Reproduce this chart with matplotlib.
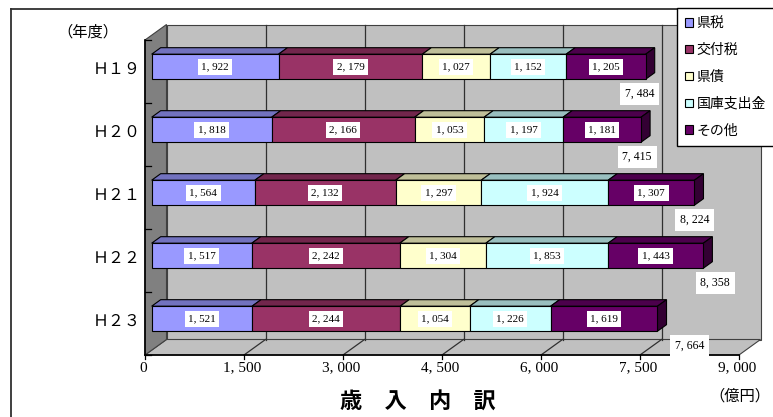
import numpy as np
import matplotlib.pyplot as plt
from matplotlib.patches import Polygon, Patch
from matplotlib.lines import Line2D

plt.rcParams['font.family'] = ['Noto Sans CJK JP', 'DejaVu Sans']
NUM_FONT = 'Liberation Serif'

# 歳入内訳（億円）
years = ['Ｈ１９', 'Ｈ２０', 'Ｈ２１', 'Ｈ２２', 'Ｈ２３']
series = ['県税', '交付税', '県債', '国庫支出金', 'その他']
kenzei = [1922, 1818, 1564, 1517, 1521]
koufuzei = [2179, 2166, 2132, 2242, 2244]
kensai = [1027, 1053, 1297, 1304, 1054]
kokko = [1152, 1197, 1924, 1853, 1226]
sonota = [1205, 1181, 1307, 1443, 1619]
totals = [7484, 7415, 8224, 8358, 7664]
xticks = [0, 1500, 3000, 4500, 6000, 7500, 9000]

colors = ['#9999FF', '#993366', '#FFFFCC', '#CCFFFF', '#660066']
# sideways nudge of the total labels (value units)
total_nudge = [-90, -60, 0, 180, 490]

def shade(c, f):
    r, g, b = [int(c[k:k + 2], 16) for k in (1, 3, 5)]
    return '#%02x%02x%02x' % (int(r * f), int(g * f), int(b * f))

def fmt(v):
    return '{:,}'.format(v).replace(',', ', ')

fig = plt.figure(figsize=(7.73, 4.17), dpi=100)
ax = fig.add_axes([145 / 773, 62 / 417, 594 / 773, 315 / 417])
ax.set_xlim(0, 9000)
ax.set_ylim(4.5, -0.5)
ax.axis('off')

# depth of the 3d box, in data units
DX = 21.5 / (594 / 9000)
DY = 15.5 / 63.0

def pt(x, y, d):
    return (x + d * DX, y - d * DY)

def poly(pts, fc, ec='black', lw=0.8, z=1):
    ax.add_patch(Polygon(pts, closed=True, fc=fc, ec=ec, lw=lw, zorder=z, clip_on=False))

# walls and floor
poly([pt(0, -0.5, 1), pt(9000, -0.5, 1), pt(9000, 4.5, 1), pt(0, 4.5, 1)], '#C0C0C0', '#404040', 0.8)
poly([pt(0, 4.5, 0), pt(9000, 4.5, 0), pt(9000, 4.5, 1), pt(0, 4.5, 1)], '#C0C0C0', '#404040', 0.8)
poly([pt(0, -0.5, 0), pt(0, -0.5, 1), pt(0, 4.5, 1), pt(0, 4.5, 0)], '#808080', '#404040', 0.8)

for v in xticks[1:-1]:
    ax.plot(*zip(pt(v, -0.5, 1), pt(v, 4.5, 1)), color='#303030', lw=0.9, zorder=2, clip_on=False)
    ax.plot(*zip(pt(v, 4.5, 0), pt(v, 4.5, 1)), color='#303030', lw=0.9, zorder=2, clip_on=False)

ax.plot([0, 9000], [4.5, 4.5], color='black', lw=1.2, zorder=3, clip_on=False)
ax.plot([0, 0], [-0.5, 4.5], color='black', lw=1.2, zorder=3, clip_on=False)
for yb in np.arange(-0.5, 4.6, 1.0):
    ax.plot([0, 90], [yb, yb], color='black', lw=0.9, zorder=3, clip_on=False)
for v in xticks:
    ax.plot([v, v], [4.5, 4.5 + 4 / 63], color='black', lw=0.9, zorder=3, clip_on=False)
    ax.annotate(fmt(v), (v, 4.5), xytext=(-2, -13), textcoords='offset pixels',
                ha='center', va='center', fontsize=11, family=NUM_FONT)

for i, yr in enumerate(years):
    ax.annotate(yr, (0, i), xytext=(-4, 2), textcoords='offset pixels',
                ha='right', va='center', fontsize=11.5)

# stacked 3d bars
data = np.array([kenzei, koufuzei, kensai, kokko, sonota])
df, db = 0.31, 0.73
h = 25 / 63
for i in range(len(years)):
    left = 0
    yt, ybm = i - h / 2, i + h / 2
    for k in range(len(series)):
        v = data[k, i]
        right = left + v
        poly([pt(left, yt, df), pt(right, yt, df), pt(right, yt, db), pt(left, yt, db)],
             shade(colors[k], 0.75), z=4)
        poly([pt(left, yt, df), pt(right, yt, df), pt(right, ybm, df), pt(left, ybm, df)],
             colors[k], z=5)
        if k == len(series) - 1:
            poly([pt(right, yt, df), pt(right, yt, db), pt(right, ybm, db), pt(right, ybm, df)],
                 shade(colors[k], 0.5), z=4)
        cx, cy = pt(left + v / 2, i, df)
        ax.text(cx, cy, fmt(v), ha='center', va='center', fontsize=8, family=NUM_FONT, zorder=6,
                bbox=dict(boxstyle='square,pad=0.3', fc='white', ec='none'))
        left = right
    tx, ty = pt(totals[i] + total_nudge[i], i + 0.43, df)
    ax.text(tx, ty, fmt(totals[i]), ha='center', va='center', fontsize=8.5, family=NUM_FONT,
            zorder=6, bbox=dict(boxstyle='square,pad=0.4', fc='white', ec='none'))

# chart frame
fig.add_artist(Line2D([10.5 / 773, 10.5 / 773], [0, 1 - 9 / 417], color='#303030', lw=1.3))
fig.add_artist(Line2D([10.5 / 773, 1], [1 - 9 / 417, 1 - 9 / 417], color='#303030', lw=1.3))

fig.text(88 / 773, 1 - 32 / 417, '（年度）', ha='center', va='center', fontsize=11)
fig.text(740 / 773, 1 - 396 / 417, '（億円）', ha='center', va='center', fontsize=11)
fig.text(418 / 773, 1 - 402 / 417, '歳　入　内　訳', ha='center', va='center', fontsize=16,
         fontweight='bold')

handles = [Patch(fc=c, ec='black', lw=0.8) for c in colors]
fig.legend(handles, series, loc='upper left', bbox_to_anchor=(677 / 773, 1 - 8 / 417),
           borderaxespad=0, fontsize=10, handlelength=0.55, handleheight=0.55,
           handletextpad=0.25, labelspacing=0.92, borderpad=0.6, fancybox=False,
           edgecolor='black', framealpha=1)

fig.savefig('out.png', dpi=100)
